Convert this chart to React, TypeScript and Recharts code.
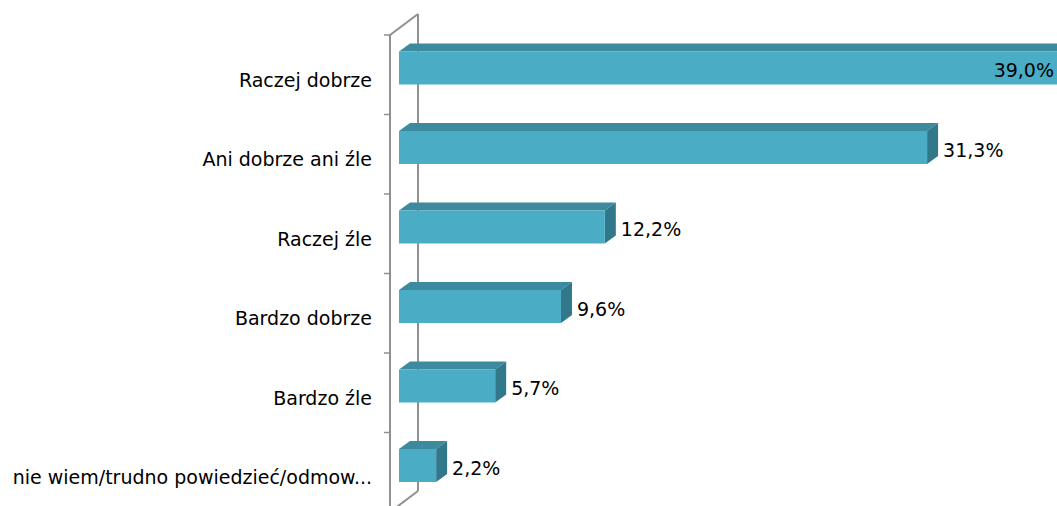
import * as RC from 'recharts';
import { Bar, BarChart, LabelList, XAxis, YAxis } from 'recharts';

const categories = [
  'Raczej dobrze',
  'Ani dobrze ani źle',
  'Raczej źle',
  'Bardzo dobrze',
  'Bardzo źle',
  'nie wiem/trudno powiedzieć/odmow...',
];
const values = [39.0, 31.3, 12.2, 9.6, 5.7, 2.2];

const data = categories.map((name, i) => ({ name, value: values[i] }));

const CHART_W = 1057;
const FONT = '"DejaVu Sans", sans-serif';
const FONT_SIZE = 19;
const FRONT = '#4bacc6';
const TOP = '#3c8a9e';
const SIDE = '#31788b';
const WALL = '#909090';

// 3D projection: bars sit a bit "into" the wall, the wall is deeper.
const BAR_DX = 9;
const BAR_DY = -6.5;
const DEPTH_X = 11;
const DEPTH_Y = -8;
const WALL_DX = 28;
const WALL_DY = -21;

const usePlot: () => any = (RC as any).usePlotArea ?? (() => null);

function Wall() {
  const area = usePlot() ?? { x: 390, y: 35, width: 658, height: 477 };
  const { x, y, height } = area;
  const bottom = y + height;
  const n = categories.length;
  const ticks = Array.from({ length: n + 1 }, (_, i) => y + (i * height) / n);
  return (
    <g>
      <line x1={x + WALL_DX} y1={y + WALL_DY} x2={x + WALL_DX} y2={bottom + WALL_DY} stroke={WALL} strokeWidth={2} />
      <line x1={x} y1={y} x2={x + WALL_DX} y2={y + WALL_DY} stroke={WALL} strokeWidth={2} />
      <line x1={x} y1={bottom} x2={x + WALL_DX} y2={bottom + WALL_DY} stroke={WALL} strokeWidth={2} />
      <line x1={x} y1={y - 1} x2={x} y2={bottom} stroke={WALL} strokeWidth={2} />
      {ticks.map((t, i) => (
        <line key={i} x1={x - 6} y1={t} x2={x} y2={t} stroke={WALL} strokeWidth={1.5} />
      ))}
    </g>
  );
}

function Box(props: any) {
  const { x, y, width, height } = props;
  const fx = x + BAR_DX;
  const fy = y + BAR_DY;
  const w = Math.max(width, 0);
  const top = `${fx},${fy} ${fx + DEPTH_X},${fy + DEPTH_Y} ${fx + w + DEPTH_X},${fy + DEPTH_Y} ${fx + w},${fy}`;
  const side = `${fx + w},${fy} ${fx + w + DEPTH_X},${fy + DEPTH_Y} ${fx + w + DEPTH_X},${fy + DEPTH_Y + height} ${fx + w},${fy + height}`;
  return (
    <g>
      <polygon points={top} fill={TOP} />
      <polygon points={side} fill={SIDE} />
      <rect x={fx} y={fy} width={w} height={height} fill={FRONT} />
    </g>
  );
}

function ValueLabel(props: any) {
  const { x, y, width, height, value } = props;
  const txt = Number(value).toFixed(1).replace('.', ',') + '%';
  const end = x + BAR_DX + width;
  const cy = y + BAR_DY + height / 2 + 2;
  // the longest bar runs off the edge, so its label goes inside
  const inside = end + DEPTH_X + 70 > CHART_W;
  return (
    <text
      x={inside ? end - 3 : end + DEPTH_X + 5}
      y={cy}
      textAnchor={inside ? 'end' : 'start'}
      dominantBaseline="central"
      fontFamily={FONT}
      fontSize={FONT_SIZE}
      fill="#000"
    >
      {txt}
    </text>
  );
}

function CategoryTick(props: any) {
  const { x, y, payload } = props;
  return (
    <text
      x={x}
      y={y + 5}
      textAnchor="end"
      dominantBaseline="central"
      fontFamily={FONT}
      fontSize={FONT_SIZE}
      fill="#000"
    >
      {payload.value}
    </text>
  );
}

export default function App() {
  return (
    <div
      style={{
        position: 'fixed',
        left: 0,
        top: 0,
        width: CHART_W,
        height: 506,
        overflow: 'hidden',
        background: '#fff',
      }}
    >
      <BarChart
        width={CHART_W}
        height={520}
        data={data}
        layout="vertical"
        margin={{ top: 35, right: 9, bottom: 8, left: 0 }}
      >
        <XAxis type="number" domain={[0, 39]} hide />
        <YAxis
          type="category"
          dataKey="name"
          width={390}
          axisLine={false}
          tickLine={false}
          tickSize={6}
          tickMargin={12}
          tick={<CategoryTick />}
          interval={0}
        />
        <Wall />
        <Bar dataKey="value" barSize={33} shape={<Box />} isAnimationActive={false}>
          <LabelList dataKey="value" content={<ValueLabel />} />
        </Bar>
      </BarChart>
    </div>
  );
}
